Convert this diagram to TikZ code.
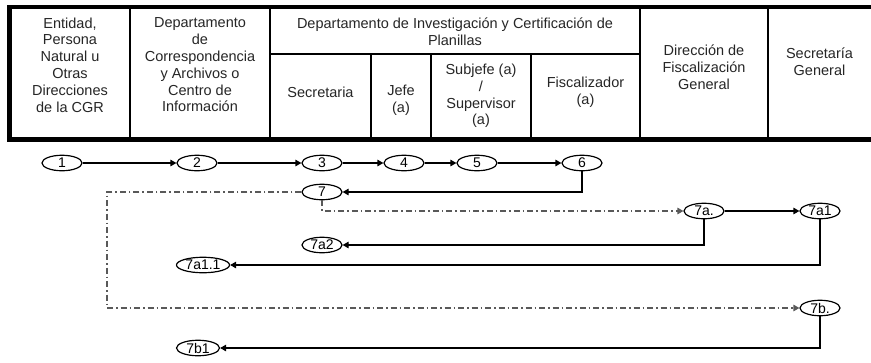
\documentclass[tikz,border=0pt]{standalone}
\usepackage{fontspec}
\setmainfont{Liberation Sans}
\usetikzlibrary{arrows.meta,shapes.geometric}
\begin{document}
\begin{tikzpicture}[x=1pt,y=-1pt,
  hdr/.style={font=\fontsize{14.5}{16.8}\selectfont, align=center, inner sep=0pt, text=black!85},
  ev/.style={ellipse, draw, line width=1.2pt, minimum width=40pt, minimum height=15.5pt, inner sep=0pt, font=\fontsize{14}{14}\selectfont},
  flow/.style={line width=1.2pt, -{Triangle[length=6pt,width=6.5pt]}},
  alt/.style={flow, draw=black!65, dash pattern=on 6pt off 3pt on 1.5pt off 3pt},
  thin/.style={line width=1.4pt},
  thick border/.style={line width=4.5pt, line join=miter}
]
\useasboundingbox (0,0) rectangle (871,362);
\fill[white] (0,0) rectangle (871,362);
% table grid
\draw[thin] (130,7) -- (130,140);
\draw[thin] (270,7) -- (270,140);
\draw[thin] (640,7) -- (640,140);
\draw[thin] (768,7) -- (768,140);
\draw[thin] (270,54) -- (640,54);
\draw[thin] (371,54) -- (371,140);
\draw[thin] (431,54) -- (431,140);
\draw[thin] (531,54) -- (531,140);
\draw[thick border] (871,7) -- (9.5,7) -- (9.5,139.5) -- (871,139.5);
% header texts
\node[hdr] (h1) at (70,65) {Entidad,\\Persona\\Natural u\\Otras\\Direcciones\\de la CGR};
\node[hdr] (h2) at (200,65) {Departamento\\de\\Correspondencia\\y Archivos o\\Centro de\\Información};
\node[hdr] (h3) at (455,32) {Departamento de Investigación y Certificación de\\Planillas};
\node[hdr] (h31) at (320.5,92) {Secretaria};
\node[hdr] (h32) at (401,100) {Jefe\\(a)};
\node[hdr] (h33) at (481,96) {Subjefe (a)\\/\\Supervisor\\(a)};
\node[hdr] (h34) at (585.5,92) {Fiscalizador\\(a)};
\node[hdr] (h4) at (704,67) {Dirección de\\Fiscalización\\General};
\node[hdr] (h5) at (819.5,62) {Secretaría\\General};
% flow nodes
\node[ev] (n1) at (62,163) {1};
\node[ev] (n2) at (197,163) {2};
\node[ev] (n3) at (322,163) {3};
\node[ev] (n4) at (404,163) {4};
\node[ev] (n5) at (477,163) {5};
\node[ev] (n6) at (582,163) {6};
\node[ev] (n7) at (322,192) {7};
\node[ev] (n7a) at (704,211) {7a.};
\node[ev] (n7a1) at (820,211) {7a1};
\node[ev] (n7a2) at (322,245) {7a2};
\node[ev, minimum width=53pt] (n7a11) at (203,265) {7a1.1};
\node[ev] (n7b) at (820,308) {7b.};
\node[ev, minimum width=43pt] (n7b1) at (198,348) {7b1};
\coordinate (c1) at (107,192);
% connectors
\draw[flow] (n1) -- (n2);
\draw[flow] (n2) -- (n3);
\draw[flow] (n3) -- (n4);
\draw[flow] (n4) -- (n5);
\draw[flow] (n5) -- (n6);
\draw[flow] (n6.south) |- (n7);
\draw[alt] (n7) -- (c1) |- (n7b);
\draw[alt] (n7.south) |- (n7a);
\draw[flow] (n7a) -- (n7a1);
\draw[flow] (n7a.south) |- (n7a2);
\draw[flow] (n7a1.south) |- (n7a11);
\draw[flow] (n7b.south) |- (n7b1);
\end{tikzpicture}
\end{document}
